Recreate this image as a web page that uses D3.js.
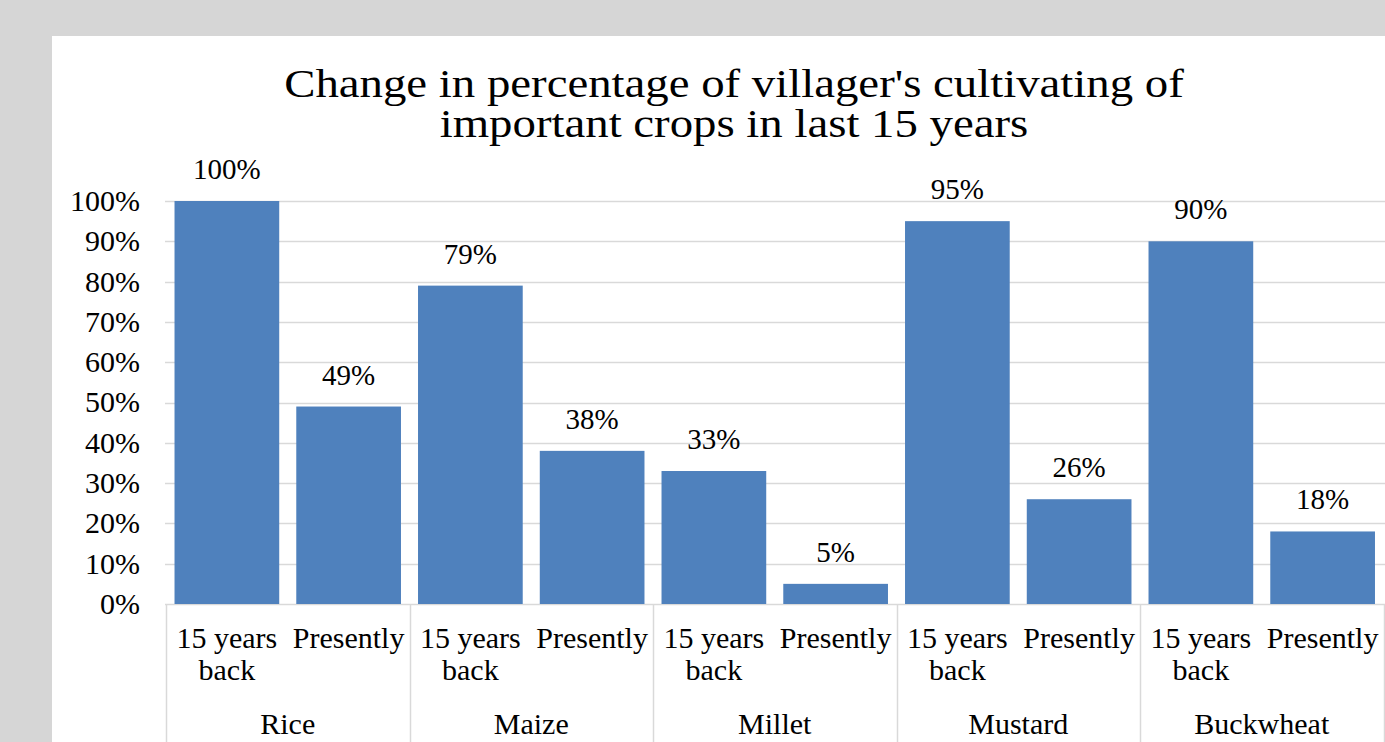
<!DOCTYPE html>
<html>
<head>
<meta charset="utf-8">
<script src="https://cdn.jsdelivr.net/npm/d3@7"></script>
<style>
  html, body { margin: 0; padding: 0; background: #d6d6d6; overflow: hidden; }
  text { font-family: "Liberation Serif", "Times New Roman", serif; fill: #000; }
</style>
</head>
<body>
<script>
// ---------------- data ----------------
var crops = ["Rice", "Maize", "Millet", "Mustard", "Buckwheat"];
var periods = ["15 years back", "Presently"];
var backValues = [1.00, 0.79, 0.33, 0.95, 0.90];
var presentValues = [0.49, 0.38, 0.05, 0.26, 0.18];
var yTicks = [0, 0.1, 0.2, 0.3, 0.4, 0.5, 0.6, 0.7, 0.8, 0.9, 1.0];
var titleLines = ["Change in percentage of villager's cultivating of", "important crops in last 15 years"];

var rows = [];
crops.forEach(function(c, i) {
  rows.push({crop: c, period: periods[0], value: backValues[i]});
  rows.push({crop: c, period: periods[1], value: presentValues[i]});
});

// ---------------- svg ----------------
var width = 1385, height = 742;
var svg = d3.select("body").append("svg")
    .attr("width", width).attr("height", height);

svg.append("rect")
    .attr("x", 0).attr("y", 0)
    .attr("width", width).attr("height", height)
    .attr("fill", "#d6d6d6");

// white chart panel
svg.append("rect")
    .attr("x", 52).attr("y", 36)
    .attr("width", width - 52).attr("height", height - 36)
    .attr("fill", "#ffffff");

var plotLeft = 166, plotRight = 1383.5, plotTop = 201, plotBottom = 604;

var x0 = d3.scaleBand()
    .domain(crops)
    .range([plotLeft, plotRight])
    .padding(0);

var x1 = d3.scaleBand()
    .domain(periods)
    .range([0, x0.bandwidth()])
    .paddingInner(0.14)
    .paddingOuter(0.07);

var y = d3.scaleLinear()
    .domain([0, 1])
    .range([plotBottom, plotTop]);

var fmt = d3.format(".0%");

// gridlines
svg.append("g").selectAll("line")
  .data(yTicks)
  .enter().append("line")
    .attr("x1", plotLeft - 1).attr("x2", width)
    .attr("y1", function(d) { return Math.round(y(d)) + 0.5; })
    .attr("y2", function(d) { return Math.round(y(d)) + 0.5; })
    .attr("stroke", "#d9d9d9")
    .attr("stroke-width", 1.5);

// y tick labels
svg.append("g").selectAll("text")
  .data(yTicks)
  .enter().append("text")
    .attr("x", 140)
    .attr("y", function(d) { return y(d); })
    .attr("dy", "0.33em")
    .attr("text-anchor", "end")
    .style("font-size", "30px")
    .text(fmt);

// bars
svg.append("g").selectAll("rect")
  .data(rows)
  .enter().append("rect")
    .attr("x", function(d) { return x0(d.crop) + x1(d.period); })
    .attr("y", function(d) { return y(d.value); })
    .attr("width", x1.bandwidth())
    .attr("height", function(d) { return y(0) - y(d.value); })
    .attr("fill", "#4f81bd");

// value labels
svg.append("g").selectAll("text")
  .data(rows)
  .enter().append("text")
    .attr("x", function(d) { return x0(d.crop) + x1(d.period) + x1.bandwidth() / 2; })
    .attr("y", function(d) { return y(d.value) - 22; })
    .attr("text-anchor", "middle")
    .style("font-size", "29px")
    .text(function(d) { return fmt(d.value); });

// category separators
var seps = crops.map(function(c) { return x0(c); }).concat([plotRight]);
svg.append("g").selectAll("line")
  .data(seps)
  .enter().append("line")
    .attr("x1", function(d) { return Math.round(d) + 0.5; })
    .attr("x2", function(d) { return Math.round(d) + 0.5; })
    .attr("y1", plotBottom).attr("y2", height)
    .attr("stroke", "#d9d9d9")
    .attr("stroke-width", 1.5);

// period labels (wrapped)
var periodLabel = svg.append("g").selectAll("text")
  .data(rows)
  .enter().append("text")
    .attr("text-anchor", "middle")
    .style("font-size", "30px");

periodLabel.each(function(d) {
  var words = d.period === periods[0] ? ["15 years", "back"] : ["Presently"];
  var cx = x0(d.crop) + x1(d.period) + x1.bandwidth() / 2;
  var t = d3.select(this);
  words.forEach(function(w, i) {
    t.append("tspan")
      .attr("x", cx)
      .attr("y", 648 + i * 32)
      .text(w);
  });
});

// crop labels
svg.append("g").selectAll("text")
  .data(crops)
  .enter().append("text")
    .attr("x", function(d) { return x0(d) + x0.bandwidth() / 2; })
    .attr("y", 734)
    .attr("text-anchor", "middle")
    .style("font-size", "30px")
    .text(function(d) { return d; });

// title (one text, two lines, a bit wider than the serif face draws it)
var title = svg.append("text")
    .attr("transform", "translate(734,0) scale(1.17,1)")
    .attr("text-anchor", "middle")
    .style("font-size", "40px");

title.selectAll("tspan")
  .data(titleLines)
  .enter().append("tspan")
    .attr("x", 0)
    .attr("y", function(d, i) { return 97 + i * 40.5; })
    .text(function(d) { return d; });
</script>
</body>
</html>
